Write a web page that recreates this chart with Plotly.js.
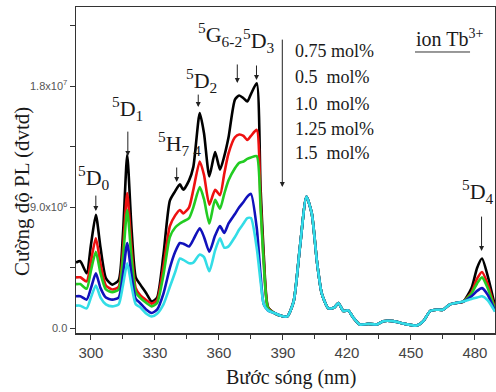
<!DOCTYPE html>
<html>
<head>
<meta charset="utf-8">
<script src="https://cdn.plot.ly/plotly-3.0.1.min.js"></script>
<style>html,body{margin:0;padding:0;background:#fff;}#chart{width:496px;height:392px;}</style>
</head>
<body>
<div id="chart"></div>
<script>
// wavelengths (nm)
const wlHead = [293, 295, 298, 300, 302.3, 304.5, 307, 310, 313, 315, 317, 319, 321, 323, 326, 328.5, 331, 334, 337, 339.5, 341.7, 343.3, 346, 348, 351, 353, 355.5, 358.2, 360.5, 362.5, 364.5, 367.5, 369.5, 371.5, 373.3, 375, 377.7, 379.5, 381, 383];
const wlTail = [386, 389, 392, 395, 398, 401, 403.5, 406, 408.2, 411.3, 414, 416, 418.3, 420.6, 423, 426, 430, 434, 437, 441.7, 446.4, 452.7, 455.8, 459, 462, 465, 468.3, 471, 474.5];
const wlEnd = [478.4, 481, 483.3, 486, 489.4];

// intensities (x10^6 a.u.)
const head075 = [4.9, 5.0, 4.1, 6.2, 8.45, 6.0, 3.75, 3.26, 3.6, 7.0, 12.9, 7.5, 3.8, 3.3, 2.6, 2.0, 2.3, 5.5, 9.5, 10.2, 10.7, 10.3, 11.0, 12.0, 16.0, 14.5, 11.3, 13.1, 11.8, 12.8, 14.2, 17.0, 17.3, 17.1, 16.85, 17.4, 18.2, 10.5, 5.5, 1.6];
const head05 = [3.8, 3.8, 3.5, 5.0, 6.7, 4.8, 3.2, 2.9, 3.1, 5.8, 10.05, 6.0, 3.0, 2.5, 2.1, 1.85, 2.1, 4.6, 7.6, 8.4, 8.8, 8.55, 9.0, 10.3, 12.4, 11.4, 9.2, 10.3, 9.9, 11.5, 13.0, 14.2, 14.4, 14.3, 14.0, 14.3, 14.75, 9.5, 5.0, 1.55];
const head10 = [3.3, 3.3, 2.95, 4.3, 5.7, 4.1, 2.9, 2.7, 2.9, 5.2, 8.8, 5.3, 2.7, 2.3, 1.9, 1.65, 1.9, 4.0, 6.8, 7.5, 7.8, 7.95, 8.2, 9.0, 10.5, 9.6, 7.8, 9.55, 8.9, 10.0, 11.0, 11.9, 12.3, 12.4, 12.6, 12.7, 12.8, 9.0, 4.8, 1.5];
const head125 = [2.4, 2.4, 2.15, 3.0, 4.1, 3.0, 2.3, 2.15, 2.3, 4.0, 6.35, 4.0, 2.2, 1.9, 1.4, 1.16, 1.4, 2.6, 4.5, 5.7, 6.35, 6.3, 6.1, 6.6, 7.45, 6.8, 5.7, 6.9, 7.6, 7.1, 7.8, 8.5, 9.0, 9.4, 9.8, 10.0, 7.5, 4.0, 1.8, 1.35];
const head15 = [1.7, 1.7, 1.5, 2.3, 3.2, 2.3, 1.8, 1.65, 1.8, 3.2, 4.85, 3.2, 1.8, 1.6, 1.1, 0.9, 1.1, 1.8, 3.1, 4.2, 5.2, 5.1, 4.85, 4.9, 5.5, 5.3, 4.25, 5.8, 6.7, 6.0, 6.1, 6.8, 7.35, 7.8, 8.2, 8.2, 6.0, 3.5, 1.8, 1.35];
const tailAll = [1.15, 0.95, 0.9, 2.0, 6.1, 9.8, 8.55, 4.9, 2.6, 1.5, 1.55, 1.9, 1.3, 1.35, 0.8, 0.3, 0.35, 0.3, 0.55, 0.55, 0.37, 0.22, 0.55, 1.3, 1.4, 1.4, 1.8, 1.9, 2.0];
const end075 = [3.0, 4.5, 5.2, 3.9, 1.65];
const end05 = [2.7, 3.7, 4.2, 3.3, 1.45];
const end10 = [2.6, 3.35, 3.8, 3.0, 1.4];
const end125 = [2.4, 2.8, 3.0, 2.5, 1.3];
const end15 = [2.2, 2.3, 2.4, 2.1, 1.25];

const seriesNames = ['0.75 mol%', '0.5 mol%', '1.0 mol%', '1.25 mol%', '1.5 mol%'];
const seriesColors = ['#000000', '#ee1111', '#22cc22', '#1111bb', '#33dde6'];
const heads = [head075, head05, head10, head125, head15];
const ends = [end075, end05, end10, end125, end15];

const yTickVals = [0, 9, 18];
const yTickText = ['0.0', '9.0x10<sup>6</sup>', '1.8x10<sup>7</sup>'];

const wl = wlHead.concat(wlTail, wlEnd);
const traces = heads.map((h, i) => ({
  x: wl,
  y: h.concat(tailAll, ends[i]),
  type: 'scatter',
  mode: 'lines',
  name: seriesNames[i],
  line: {color: seriesColors[i], width: 2.6, shape: 'spline', smoothing: 0.6},
  hoverinfo: 'skip'
}));

const serif = 'Liberation Serif, Times New Roman, serif';
const txtColor = '#1a1a1a';
function lab(text, x, y, size) {
  return {text: text, x: x, y: y, xref: 'x', yref: 'y', showarrow: false,
    font: {family: serif, size: size, color: txtColor}, xanchor: 'center', yanchor: 'middle'};
}
function arr(x, y, ay) {
  return {text: '', x: x, y: y, xref: 'x', yref: 'y', showarrow: true, ax: 0, ay: ay,
    arrowhead: 2, arrowsize: 1, arrowwidth: 1, arrowcolor: '#222', standoff: 0, startstandoff: 0};
}

const annotations = [
  lab('<sup>5</sup>D<sub>0</sub>', 301.6, 11.21, 22),
  lab('<sup>5</sup>D<sub>1</sub>', 317.1, 16.3, 22),
  lab('<sup>5</sup>H<sub>7 4</sub>', 341.7, 13.73, 22),
  lab('<sup>5</sup>D<sub>2</sub>', 351.6, 18.45, 22),
  lab('<sup>5</sup>G<sub>6-2</sub>', 360.4, 21.86, 22),
  lab('<sup>5</sup>D<sub>3</sub>', 378.6, 21.42, 22),
  lab('<sup>5</sup>D<sub>4</sub>', 481.4, 10.17, 22),
  lab('ion Tb<sup>3+</sup>', 468.3, 21.55, 20),
  arr(302.3, 8.72, -17),
  arr(317.3, 12.8, -26),
  arr(340.2, 10.88, -16),
  arr(350.3, 16.44, -14),
  arr(368.6, 18.23, -20),
  arr(377.6, 18.45, -16),
  arr(389.7, 10.5, -149),
  arr(483.1, 5.75, -36),
  {text: 'Cường độ PL (đvtđ)', xref: 'paper', yref: 'paper', x: -0.129, y: 0.4356, showarrow: false,
    textangle: -90, font: {family: serif, size: 21, color: txtColor}, xanchor: 'center', yanchor: 'middle'},
  {text: 'Bước sóng (nm)', xref: 'paper', yref: 'paper', x: 0.512, y: -0.135, showarrow: false,
    font: {family: serif, size: 20, color: txtColor}, xanchor: 'center', yanchor: 'middle'}
];
const legendYs = [20.64, 18.67, 16.70, 14.85, 13.0];
const legendText = ['0.75 mol%', '0.5&nbsp;&nbsp;mol%', '1.0&nbsp;&nbsp;mol%', '1.25 mol%', '1.5&nbsp;&nbsp;mol%'];
legendText.forEach((t, i) => annotations.push({text: t, x: 394.7, y: legendYs[i], xref: 'x', yref: 'y',
  showarrow: false, xanchor: 'left', yanchor: 'middle', font: {family: serif, size: 18, color: txtColor}}));

const layout = {
  width: 496, height: 392,
  margin: {l: 76, r: 1, t: 7, b: 59, pad: 0},
  paper_bgcolor: '#fff', plot_bgcolor: '#fff',
  showlegend: false,
  xaxis: {range: [293, 489.4], showgrid: false, zeroline: false, showline: true, mirror: true,
    linecolor: '#333', linewidth: 1.5, ticks: 'outside', ticklen: 5, tickwidth: 1, tickcolor: '#333',
    tickmode: 'linear', tick0: 300, dtick: 30,
    minor: {tickmode: 'linear', tick0: 315, dtick: 30, ticks: 'outside', ticklen: 4, tickcolor: '#333'},
    tickfont: {family: 'Liberation Sans, Arial, sans-serif', size: 15, color: '#444'}},
  yaxis: {range: [-0.33, 23.87], showgrid: false, zeroline: false, showline: true, mirror: true,
    linecolor: '#333', linewidth: 1.5, ticks: 'outside', ticklen: 5, tickwidth: 1, tickcolor: '#333',
    tickmode: 'array', tickvals: yTickVals, ticktext: yTickText,
    minor: {tickmode: 'array', tickvals: [4.5, 13.5, 22.5], ticks: 'outside', ticklen: 5, tickcolor: '#333'},
    tickfont: {family: 'Liberation Sans, Arial, sans-serif', size: 11, color: '#555'}},
  annotations: annotations,
  shapes: [{type: 'line', xref: 'x', yref: 'y', x0: 451.9, x1: 477.7, y0: 20.53, y1: 20.53,
    line: {color: '#333', width: 1}}]
};

Plotly.newPlot('chart', traces, layout, {displayModeBar: false, staticPlot: true});
</script>
</body>
</html>
